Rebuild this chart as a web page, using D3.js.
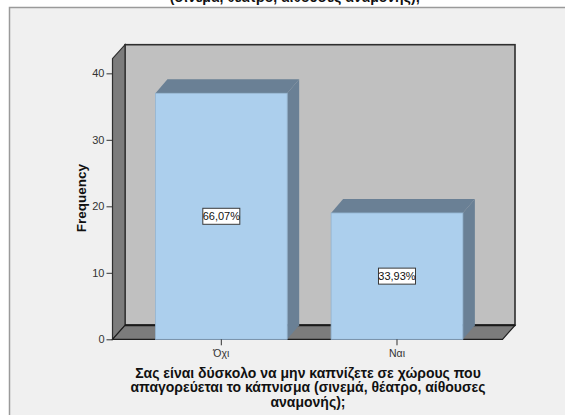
<!DOCTYPE html>
<html>
<head>
<meta charset="utf-8">
<script src="https://cdn.jsdelivr.net/npm/d3@7"></script>
<style>
  html, body { margin: 0; padding: 0; background: #ffffff; }
  svg { display: block; font-family: Arial, "Liberation Sans", sans-serif; }
</style>
</head>
<body>
<svg id="chart" width="565" height="415"></svg>
<script>
// Answers to the question and their counts (n = 56)
const categories = ["Όχι", "Ναι"];
const frequencies = [37, 19];
const percentLabels = ["66,07%", "33,93%"];
const yTicks = [0, 10, 20, 30, 40];
const titleTail = "(σινεμά, θέατρο, αίθουσες αναμονής);";
const xTitleLines = [
  "Σας είναι δύσκολο να μην καπνίζετε σε χώρους που",
  "απαγορεύεται το κάπνισμα (σινεμά, θέατρο, αίθουσες",
  "αναμονής);"
];

const svg = d3.select("#chart");

// Plot geometry (front plane of the 3D box) and depth offsets
const front = { left: 112.5, right: 502.5, bottom: 339.3, top: 58.7 };
const wallDepth = { dx: 12.5, dy: -14 };
const barDepth = { dx: 12, dy: -14 };

const y = d3.scaleLinear().domain([0, 42.2]).range([front.bottom, front.top]);
const x = d3.scaleBand()
  .domain(categories)
  .range([front.left, front.right])
  .paddingInner(0.25)
  .paddingOuter(0.235)
  .align(0.52);

// Background panel
svg.append("rect").attr("x", 0).attr("y", 0).attr("width", 565).attr("height", 415).attr("fill", "#ffffff");
svg.append("rect")
  .attr("x", 9.5).attr("y", 7.5).attr("width", 570).attr("height", 420)
  .attr("fill", "#f0f0f0").attr("stroke", "#9a9a9a").attr("stroke-width", 1.5);

// Last line of the chart title (earlier lines sit above the panel)
svg.append("text")
  .attr("x", 295).attr("y", 1.5)
  .attr("text-anchor", "middle")
  .attr("font-size", "14px").attr("font-weight", "bold").attr("fill", "#111")
  .text(titleTail);

const y0 = y(0), yTop = y(42.2);
const L = front.left, R = front.right, D = wallDepth;

// Back wall
svg.append("rect")
  .attr("x", L + D.dx).attr("y", yTop + D.dy)
  .attr("width", R - L).attr("height", y0 - yTop)
  .attr("fill", "#c0c0c0").attr("stroke", "#2e2e2e").attr("stroke-width", 1.6);

const poly = pts => pts.map(p => p.join(",")).join(" ");

// Left side wall
svg.append("polygon")
  .attr("points", poly([[L, yTop], [L + D.dx, yTop + D.dy], [L + D.dx, y0 + D.dy], [L, y0]]))
  .attr("fill", "#7c7c7c").attr("stroke", "#2e2e2e").attr("stroke-width", 1.2);

// Floor
svg.append("polygon")
  .attr("points", poly([[L, y0], [L + D.dx, y0 + D.dy], [R + D.dx, y0 + D.dy], [R, y0]]))
  .attr("fill", "#7c7c7c").attr("stroke", "#1e1e1e").attr("stroke-width", 1.2);
svg.append("line")
  .attr("x1", L + D.dx).attr("x2", R + D.dx)
  .attr("y1", y0 + D.dy).attr("y2", y0 + D.dy)
  .attr("stroke", "#1a1a1a").attr("stroke-width", 2);

// Bars (front, top and side faces)
const bars = svg.append("g");
categories.forEach((c, i) => {
  const x0 = x(c), x1 = x(c) + x.bandwidth();
  const yt = y(frequencies[i]);
  const B = barDepth;
  bars.append("polygon")
    .attr("points", poly([[x1, yt], [x1 + B.dx, yt + B.dy], [x1 + B.dx, y0 + B.dy], [x1, y0]]))
    .attr("fill", "#6a8095");
  bars.append("polygon")
    .attr("points", poly([[x0, yt], [x0 + B.dx, yt + B.dy], [x1 + B.dx, yt + B.dy], [x1, yt]]))
    .attr("fill", "#6a8095");
  bars.append("rect")
    .attr("x", x0).attr("y", yt)
    .attr("width", x1 - x0).attr("height", y0 - yt)
    .attr("fill", "#accfed").attr("stroke", "#93b3d0").attr("stroke-width", 0.8);
});

// Percentage labels in the middle of each bar
categories.forEach((c, i) => {
  const cx = x(c) + x.bandwidth() / 2;
  const cy = y(frequencies[i] / 2);
  const g = svg.append("g");
  g.append("rect")
    .attr("x", cx - 18.5).attr("y", cy - 8)
    .attr("width", 37).attr("height", 16)
    .attr("fill", "#ffffff").attr("stroke", "#3a3a3a").attr("stroke-width", 1);
  g.append("text")
    .attr("x", cx).attr("y", cy + 4)
    .attr("text-anchor", "middle")
    .attr("font-size", "11px").attr("fill", "#111")
    .text(percentLabels[i]);
});

// Y axis
const yAxis = d3.axisLeft(y).tickValues(yTicks).tickSize(6).tickPadding(2);
const yg = svg.append("g").attr("transform", `translate(${L},0)`).call(yAxis);
yg.select(".domain").remove();
yg.selectAll(".tick line").attr("stroke", "#333");
yg.selectAll(".tick text").attr("font-size", "11px").attr("fill", "#333")
  .attr("font-family", "Arial, 'Liberation Sans', sans-serif");

// X axis
const xAxis = d3.axisBottom(x).tickSize(6).tickPadding(4);
const xg = svg.append("g").attr("transform", `translate(0,${y0})`).call(xAxis);
xg.select(".domain").remove();
xg.selectAll(".tick line").attr("stroke", "#333");
xg.selectAll(".tick text").attr("font-size", "10.5px").attr("fill", "#333")
  .attr("font-family", "Arial, 'Liberation Sans', sans-serif");

// Axis titles
svg.append("text")
  .attr("transform", "translate(86,198) rotate(-90)")
  .attr("text-anchor", "middle")
  .attr("font-size", "13.5px").attr("font-weight", "bold").attr("fill", "#111")
  .text("Frequency");

const xt = svg.append("text")
  .attr("text-anchor", "middle")
  .attr("font-size", "14px").attr("font-weight", "bold").attr("fill", "#111");
xTitleLines.forEach((line, i) => {
  xt.append("tspan").attr("x", 308).attr("y", 377.5 + i * 14.5).text(line);
});
</script>
</body>
</html>
